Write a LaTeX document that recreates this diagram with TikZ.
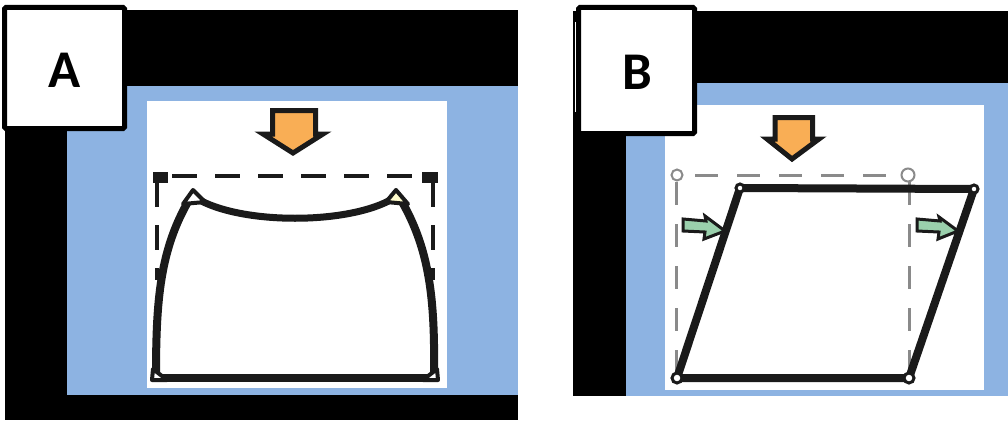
\documentclass[tikz,border=0pt]{standalone}
\usepackage{fontspec}
\setmainfont{Carlito}
\definecolor{panelblue}{HTML}{8DB3E2}
\definecolor{arroworange}{HTML}{F9AE55}
\definecolor{arrowgreen}{HTML}{9AD0AC}
\definecolor{guidegray}{HTML}{8A8A8A}
\definecolor{ink}{HTML}{1A1A1A}
\tikzset{
  labelbox/.style={draw=black,fill=white,line width=5pt,rounded corners=1.5pt,inner sep=0pt},
  labeltext/.style={font=\fontsize{53}{53}\selectfont\bfseries,inner sep=0pt,anchor=center},
  outline/.style={draw=ink,line width=8pt,line join=round},
  guideA/.style={draw=ink,line width=4pt,dash pattern=on 25pt off 18pt},
  guideB/.style={draw=guidegray,line width=3pt,dash pattern=on 23pt off 19pt},
  downarrow/.style={draw=ink,fill=arroworange,line width=5pt,line join=miter,miter limit=6},
  sidearrow/.style={draw=ink,fill=arrowgreen,line width=3pt,line join=miter},
  pivotA/.style={draw=ink,fill=white,line width=4pt,line join=round},
  pivotB/.style={circle,draw=ink,fill=white,line width=3pt,minimum size=10pt,inner sep=0pt},
  pivotG/.style={circle,draw=guidegray,fill=white,line width=2pt,minimum size=11pt,inner sep=0pt}
}
\begin{document}
\begin{tikzpicture}[x=1pt,y=-1pt]
\useasboundingbox (0,0) rectangle (1008,420);
\fill[white] (0,0) rectangle (1008,420);
% Panel A backgrounds
\fill[black] (5,10) rectangle (518,420);
\fill[panelblue] (67,86) rectangle (518,395);
\fill[white] (147,101) rectangle (447,388);
% Panel A guide
\draw[guideA] (172,176) -- (422,176);
\draw[guideA] (157,182) -- (157,280);
\draw[guideA] (433,182) -- (433,280);
\fill[ink] (153,172) rectangle (168,183);
\fill[ink] (422,172) rectangle (438,183);
% Panel A orange arrow
\draw[downarrow] (272.5,110.5) -- (315.5,110.5) -- (315.5,134) -- (323,134) -- (293,153) -- (263,134) -- (272.5,134) -- cycle;
% Panel A shape
\draw[outline] (156,376) .. controls (156,300) and (160,250) .. (189,200);
\draw[outline] (434,376) .. controls (435,300) and (430,250) .. (401,200);
\draw[outline,line width=7pt] (196,198) .. controls (240,225) and (350,225) .. (394,198);
\draw[pivotA] (193,190) -- (205,202) -- (183,204) -- cycle;
\draw[pivotA,fill=white!80!yellow] (396,190) -- (408,204) -- (386,202) -- cycle;
\draw[outline] (152,377.5) -- (438,377.5);
\draw[pivotA] (153,369) -- (167,380) -- (152,380) -- cycle;
\draw[pivotA] (437,369) -- (423,380) -- (438,380) -- cycle;
% Panel A label
\node[labelbox,minimum width=120pt,minimum height=121pt] (labelA) at (64.5,68) {};
\node[labeltext] (textA) at (64.5,70) {A};
% Panel B backgrounds
\fill[black] (573,11) rectangle (1008,396);
\fill[panelblue] (626,83) rectangle (1008,396);
\fill[white] (665,105) rectangle (984,390);
\draw[white,line width=1pt] (575.5,22) -- (575.5,112);
% Panel B guide
\draw[guideB] (695,175) -- (900,175);
\draw[guideB] (676,182) -- (676,378);
\draw[guideB] (909,182) -- (909,378);
\node[pivotG] (g1) at (677,175) {};
\node[pivotG,minimum size=13pt] (g2) at (908,175) {};
% Panel B orange arrow
\draw[downarrow] (775,117.5) -- (812.5,117.5) -- (812.5,139) -- (819,139) -- (792,159) -- (767,139) -- (775,139) -- cycle;
% Panel B shape
\coordinate (p1) at (677,378);
\coordinate (p2) at (909,378);
\coordinate (p3) at (974,189);
\coordinate (p4) at (740,188);
\draw[outline] (p1) -- (p2) -- (p3) -- (p4) -- cycle;
\node[pivotB] (c1) at (p1) {};
\node[pivotB] (c2) at (p2) {};
\node[pivotB,minimum size=8pt] (c3) at (p3) {};
\node[pivotB,minimum size=8pt] (c4) at (p4) {};
% Panel B green arrows
\draw[sidearrow] (683,219) -- (706,221) -- (705,216) -- (725,231) -- (704,239) -- (705,232) -- (683,231) -- cycle;
\draw[sidearrow] (917,219) -- (940,221) -- (939,217) -- (958,231) -- (938,239) -- (939,232) -- (917,231) -- cycle;
% Panel B label
\node[labelbox,minimum width=116pt,minimum height=126pt] (labelB) at (636.5,70.5) {};
\node[labeltext] (textB) at (637,72) {B};
\end{tikzpicture}
\end{document}
